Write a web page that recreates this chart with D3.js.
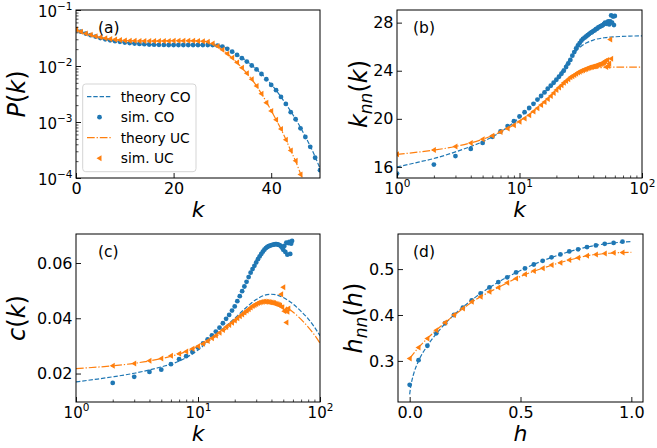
<!DOCTYPE html>
<html>
<head>
<meta charset="utf-8">
<script src="https://cdn.jsdelivr.net/npm/d3@7"></script>
<style>
body { margin: 0; background: #fff; }
svg text { font-family: "DejaVu Sans", sans-serif; }
</style>
</head>
<body>
<svg id="fig" width="657" height="448"></svg>
<script>
// ---- panel (a): degree distribution P(k)
var kA_simCO = [0,1,2,3,4,5,6,7,8,9,10,11,12,13,14,15,16,17,18,19,20,21,22,23,24,25,26,27,28,29,30,31,32,33,34,35,36,37,38,39,40,41,42,43,44,45,46,47,48,49,50];
var pA_simCO = [0.045,0.041,0.038,0.0355,0.0335,0.0315,0.030,0.0288,0.0278,0.0270,0.0263,0.0257,0.0252,0.0248,0.0245,0.0242,0.0240,0.0239,0.0238,0.0237,0.0237,0.0237,0.0237,0.0237,0.0237,0.0237,0.0237,0.0237,0.0236,0.0232,0.0222,0.0203,0.0180,0.0158,0.0138,0.0120,0.0102,0.0087,0.0072,0.0058,0.0046,0.0037,0.0028,0.0021,0.0015,0.00112,0.00077,0.00054,0.00036,0.00023,0.000138];
var kA_simUC = [0,1,2,3,4,5,6,7,8,9,10,11,12,13,14,15,16,17,18,19,20,21,22,23,24,25,26,27,28,29,30,31,32,33,34,35,36,37,38,39,40,41,42,43,44,45,46];
var pA_simUC = [0.045,0.041,0.038,0.036,0.034,0.0325,0.0313,0.0303,0.0296,0.0290,0.0286,0.0283,0.0281,0.0280,0.0279,0.0279,0.0279,0.0279,0.0280,0.0280,0.0281,0.0281,0.0281,0.0281,0.0281,0.0280,0.0278,0.0270,0.0252,0.0225,0.0195,0.0166,0.0140,0.0115,0.0093,0.0074,0.0058,0.0044,0.0032,0.0022,0.00158,0.0011,0.00075,0.00048,0.00031,0.000204,0.000115];
var kA_thCO = [0,2,4,6,8,10,13,16,20,24,27,29,31,33,35,37,39,41,43,45,47,49,50];
var pA_thCO = [0.045,0.038,0.0335,0.030,0.0278,0.0263,0.0248,0.0240,0.0237,0.0237,0.0236,0.0230,0.0205,0.0160,0.0121,0.0087,0.0059,0.0037,0.0021,0.00113,0.00055,0.00024,0.000148];
var kA_thUC = [0,2,4,6,8,10,13,16,20,24,26,27,28,29,30,31,32,33,34,35,36,37,38,39,40,41,42,43,44,45,46,47,48];
var pA_thUC = [0.045,0.038,0.034,0.0313,0.0296,0.0286,0.0280,0.0279,0.0281,0.0281,0.0278,0.0270,0.0253,0.0226,0.0196,0.0166,0.0139,0.0115,0.0093,0.0074,0.0058,0.0044,0.0032,0.0023,0.00160,0.00110,0.00075,0.00049,0.00031,0.000200,0.000120,0.000072,0.000042];

// ---- panel (b): k_nn(k)
var kB_simCO = [1,2,3,4,5,6,7,8,9,10,11,12,13,14,15,16,17,18,19,20,21,22,23,24,25,26,27,28,29,30,31,32,33,34,35,36,37,38,39,40,41,42,43,44,45,46,47,48,49,50,51,52,53,54,55,56,57,58,59,60];
var vB_simCO = [15.45,16.2,16.9,17.5,18.0,18.5,18.95,19.4,19.8,20.2,20.55,20.9,21.25,21.6,21.9,22.2,22.5,22.75,23.0,23.25,23.5,23.75,24.0,24.3,24.6,24.9,25.25,25.55,25.85,26.1,26.3,26.5,26.65,26.75,26.85,26.95,27.05,27.15,27.2,27.3,27.35,27.45,27.5,27.6,27.65,27.7,27.75,27.8,27.9,28.0,27.9,28.0,28.1,27.85,28.1,28.6,28.0,28.5,27.8,28.55];
var kB_simUC = [1,2,3,4,5,6,7,8,9,10,11,12,13,14,15,16,17,18,19,20,21,22,23,24,25,26,27,28,29,30,31,32,33,34,35,36,37,38,39,40,41,42,43,44,45,46,47,48,49,50,51,52,53,54,55,56];
var vB_simUC = [17.05,17.4,17.7,18.0,18.3,18.6,18.9,19.2,19.47,19.75,20.03,20.3,20.6,20.87,21.14,21.4,21.65,21.9,22.15,22.4,22.6,22.8,23.0,23.15,23.3,23.45,23.55,23.65,23.75,23.85,23.92,24.0,24.05,24.1,24.15,24.2,24.25,24.28,24.3,24.35,24.38,24.42,24.45,24.5,24.52,24.55,24.6,24.65,24.7,24.8,24.3,24.9,24.4,24.6,26.6,25.0];
var kB_thCO = [1,1.5,2,3,4,5,7,10,13,17,20,25,30,35,40,50,60,80,100];
var vB_thCO = [16.0,16.4,16.7,17.25,17.7,18.1,18.9,20.1,21.2,22.5,23.3,24.8,25.8,26.3,26.55,26.75,26.82,26.88,26.9];
var kB_thUC = [1,2,3,5,7,10,15,20,25,30,35,40,50,60,80,100];
var vB_thUC = [17.05,17.4,17.7,18.3,18.9,19.8,21.15,22.35,23.2,23.75,24.05,24.2,24.27,24.3,24.3,24.3];

// ---- panel (c): clustering c(k)
var kC_simCO = [2,3,4,5,6,7,8,9,10,11,12,13,14,15,16,17,18,19,20,21,22,23,24,25,26,27,28,29,30,31,32,33,34,35,36,37,38,39,40,41,42,43,44,45,46,47,48,49,50,51,52,53,54,55,56,57,58,59];
var vC_simCO = [0.0166,0.0188,0.0206,0.0214,0.0234,0.0252,0.0263,0.0278,0.0294,0.0309,0.0324,0.0338,0.0352,0.0366,0.0382,0.0398,0.0412,0.0428,0.0443,0.0462,0.048,0.0498,0.0515,0.0532,0.0549,0.0565,0.0578,0.059,0.0602,0.0614,0.0624,0.0633,0.0641,0.0648,0.0654,0.0658,0.0661,0.0663,0.0665,0.0666,0.0667,0.0668,0.0668,0.0667,0.0666,0.0664,0.0660,0.0655,0.0648,0.0662,0.0640,0.0674,0.0630,0.0672,0.0676,0.0633,0.0670,0.0680];
var kC_simUC = [2,3,4,5,6,7,8,9,10,11,12,13,14,15,16,17,18,19,20,21,22,23,24,25,26,27,28,29,30,31,32,33,34,35,36,37,38,39,40,41,42,43,44,45,46,47,48,49,50,51,52,53,54,55];
var vC_simUC = [0.0228,0.0236,0.0246,0.0254,0.0264,0.0272,0.028,0.029,0.0299,0.0308,0.0318,0.0328,0.0338,0.0348,0.0358,0.0368,0.0376,0.0384,0.0392,0.0400,0.0407,0.0414,0.0421,0.0427,0.0433,0.0439,0.0444,0.0448,0.0452,0.0455,0.0457,0.0459,0.046,0.0461,0.046,0.046,0.0459,0.0458,0.0457,0.0456,0.0455,0.0453,0.0452,0.045,0.0448,0.0446,0.0487,0.0440,0.0512,0.0425,0.0430,0.0385,0.0424,0.0435];
var kC_thCO = [1,1.5,2,3,4,5,7,10,13,16,20,25,30,35,40,50,60,70,80,90,100];
var vC_thCO = [0.0170,0.0180,0.0188,0.0201,0.0213,0.0224,0.0245,0.0285,0.0328,0.0362,0.0400,0.0440,0.0468,0.0483,0.0487,0.0475,0.0452,0.0425,0.0398,0.0368,0.0337];
var kC_thUC = [1,2,3,5,7,10,13,16,20,25,30,35,40,50,60,70,80,90,100];
var vC_thUC = [0.0218,0.0228,0.0237,0.0254,0.0271,0.0298,0.0325,0.0352,0.0388,0.0421,0.0445,0.0457,0.0458,0.0445,0.0423,0.0396,0.0368,0.0340,0.0310];

// ---- panel (d): h_nn(h)
var hD_sim = [0,0.04,0.08,0.12,0.16,0.20,0.24,0.28,0.32,0.36,0.40,0.44,0.48,0.52,0.56,0.60,0.64,0.68,0.72,0.76,0.80,0.84,0.88,0.92,0.96];
var vD_simCO = [0.248,0.3015,0.333,0.360,0.382,0.400,0.416,0.432,0.447,0.460,0.4716,0.482,0.4927,0.5015,0.510,0.518,0.5255,0.532,0.5385,0.543,0.548,0.5516,0.555,0.557,0.5596];
var vD_simUC = [0.305,0.329,0.349,0.367,0.3836,0.400,0.414,0.4287,0.44,0.4505,0.46,0.470,0.4796,0.489,0.4956,0.502,0.5087,0.5138,0.5196,0.5247,0.529,0.532,0.534,0.5356,0.536];
var hD_thCO = [0,0.005,0.01,0.02,0.04,0.08,0.12,0.16,0.2,0.3,0.4,0.5,0.6,0.7,0.8,0.9,1.0];
var vD_thCO = [0.227,0.245,0.257,0.275,0.300,0.333,0.359,0.381,0.400,0.440,0.4716,0.497,0.518,0.535,0.548,0.556,0.5598];
var hD_thUC = [0,0.04,0.08,0.12,0.16,0.2,0.3,0.4,0.5,0.6,0.7,0.8,0.9,1.0];
var vD_thUC = [0.305,0.329,0.349,0.367,0.3836,0.399,0.434,0.460,0.484,0.502,0.517,0.529,0.5345,0.5365];

var legendLabels = ["theory CO", "sim. CO", "theory UC", "sim. UC"];

var blue = "#1f77b4", orange = "#ff7f0e";
var dashCO = "4.4,1.9", dashUC = "7.7,1.9,1.3,1.9";
var FONT = "DejaVu Sans, sans-serif";
var svg = d3.select("#fig");

function zip(xs, ys) { return xs.map(function(v, i) { return [v, ys[i]]; }); }

function makePanel(id, left, top, w, h) {
  var g = svg.append("g").attr("transform", "translate(" + left + "," + top + ")");
  g.append("clipPath").attr("id", "clip" + id).append("rect").attr("width", w).attr("height", h);
  g.inner = g.append("g").attr("clip-path", "url(#clip" + id + ")");
  g.w = w; g.h = h;
  return g;
}

// 10^n labels, mathtext style
function supLabel(sel, isY) {
  sel.selectAll(".tick text").each(function(d) {
    var e = Math.round(Math.log10(d));
    var t = d3.select(this).attr("font-size", 15).text("10");
    if (isY) t.attr("dy", "0.42em");
    t.append("tspan").attr("dy", "-6.5").attr("font-size", "10.5px").text(e < 0 ? "\u2212" + (-e) : e);
  });
}

function logMinor(lo, hi) {
  var out = [];
  for (var e = lo; e < hi; e++) for (var m = 2; m <= 9; m++) out.push(m * Math.pow(10, e));
  return out;
}

function drawAxes(g, x, y, o) {
  var xa = g.append("g").attr("transform", "translate(0," + g.h + ")")
    .call(d3.axisBottom(x).tickValues(o.xt).tickSize(-5).tickSizeOuter(0).tickPadding(5).tickFormat(o.xf || null));
  var ya = g.append("g")
    .call(d3.axisLeft(y).tickValues(o.yt).tickSize(-5).tickSizeOuter(0).tickPadding(3.5).tickFormat(o.yf || null));
  [xa, ya].forEach(function(a) {
    a.attr("font-size", 16).attr("font-family", FONT);
    a.select(".domain").remove();
    a.selectAll(".tick line").attr("stroke-width", 0.9);
  });
  if (o.xlog) {
    supLabel(xa, false);
    g.append("g").attr("transform", "translate(0," + g.h + ")")
      .call(d3.axisBottom(x).tickValues(logMinor(0, 2)).tickSize(-2.5).tickFormat(""))
      .call(function(a) { a.select(".domain").remove(); a.selectAll("line").attr("stroke-width", 0.7); });
  }
  if (o.ylog) {
    supLabel(ya, true);
    g.append("g")
      .call(d3.axisLeft(y).tickValues(logMinor(-4, -1)).tickSize(-2.5).tickFormat(""))
      .call(function(a) { a.select(".domain").remove(); a.selectAll("line").attr("stroke-width", 0.7); });
  }
  g.append("rect").attr("width", g.w).attr("height", g.h)
    .attr("fill", "none").attr("stroke", "#000").attr("stroke-width", 1);
}

function drawSeries(g, x, y, thCO, simCO, thUC, simUC) {
  var line = d3.line().x(function(d) { return x(d[0]); }).y(function(d) { return y(d[1]); }).curve(d3.curveMonotoneX);
  g.inner.append("path").datum(thCO).attr("d", line).attr("fill", "none")
    .attr("stroke", blue).attr("stroke-width", 1.2).attr("stroke-dasharray", dashCO);
  g.inner.selectAll(".dco").data(simCO).enter().append("circle")
    .attr("cx", function(d) { return x(d[0]); }).attr("cy", function(d) { return y(d[1]); })
    .attr("r", 2.4).attr("fill", blue);
  g.inner.append("path").datum(thUC).attr("d", line).attr("fill", "none")
    .attr("stroke", orange).attr("stroke-width", 1.2).attr("stroke-dasharray", dashUC);
  g.inner.selectAll(".duc").data(simUC).enter().append("path")
    .attr("transform", function(d) { return "translate(" + x(d[0]) + "," + y(d[1]) + ")"; })
    .attr("d", "M-3,0L2,-3L2,3Z").attr("fill", orange);
}

function yLabel(g, xpos, parts) {
  var t = g.append("text").attr("transform", "translate(" + xpos + "," + (g.h / 2) + ") rotate(-90)")
    .attr("text-anchor", "middle").attr("font-size", 24).attr("font-family", FONT);
  parts.forEach(function(p) {
    var s = t.append("tspan").text(p[0]);
    if (p[1] === "i") s.attr("font-style", "italic");
    if (p[1] === "sub") s.attr("font-style", "italic").attr("font-size", 17).attr("dy", 5);
    if (p[2]) s.attr("dy", p[2]);
  });
}
function xLabel(g, ypos, txt) {
  g.append("text").attr("x", g.w / 2).attr("y", ypos).attr("text-anchor", "middle")
    .attr("font-family", FONT).attr("font-size", 22).attr("font-style", "italic").text(txt);
}
function tag(g, xpos, txt) {
  g.append("text").attr("x", xpos).attr("y", 23).attr("font-family", FONT).attr("font-size", 15.5).text(txt);
}

// ---- (a)
var gA = makePanel("a", 76, 10, 244, 168);
var xA = d3.scaleLinear().domain([0, 50]).range([0, 244]);
var yA = d3.scaleLog().domain([1e-4, 1e-1]).range([168, 0]);
drawSeries(gA, xA, yA, zip(kA_thCO, pA_thCO), zip(kA_simCO, pA_simCO), zip(kA_thUC, pA_thUC), zip(kA_simUC, pA_simUC));
drawAxes(gA, xA, yA, { xt: [0, 20, 40], yt: [1e-4, 1e-3, 1e-2, 1e-1], ylog: true });
yLabel(gA, -51, [["P", "i"], ["("], ["k", "i"], [")"]]);
xLabel(gA, 207, "k");
tag(gA, 22, "(a)");

// legend
var lg = gA.append("g").attr("transform", "translate(6.7,74)");
lg.append("rect").attr("width", 113.3).attr("height", 87.7).attr("rx", 3)
  .attr("fill", "#fff").attr("fill-opacity", 0.8).attr("stroke", "#d0d0d0").attr("stroke-width", 0.9);
legendLabels.forEach(function(lab, i) {
  var yy = 12.7 + i * 20.5;
  if (i === 0 || i === 2) {
    lg.append("line").attr("x1", 4.3).attr("x2", 29.3).attr("y1", yy).attr("y2", yy)
      .attr("stroke", i === 0 ? blue : orange).attr("stroke-width", 1.2)
      .attr("stroke-dasharray", i === 0 ? dashCO : dashUC);
  } else if (i === 1) {
    lg.append("circle").attr("cx", 16.8).attr("cy", yy).attr("r", 2.4).attr("fill", blue);
  } else {
    lg.append("path").attr("transform", "translate(16.8," + yy + ")").attr("d", "M-3,0L2,-3L2,3Z").attr("fill", orange);
  }
  lg.append("text").attr("x", 38).attr("y", yy + 5).attr("font-family", FONT).attr("font-size", 13.8).text(lab);
});

// ---- (b)
var gB = makePanel("b", 397, 10, 245, 168);
var xB = d3.scaleLog().domain([1, 100]).range([0, 245]);
var yB = d3.scaleLinear().domain([15.08, 29.05]).range([168, 0]);
drawSeries(gB, xB, yB, zip(kB_thCO, vB_thCO), zip(kB_simCO, vB_simCO), zip(kB_thUC, vB_thUC), zip(kB_simUC, vB_simUC));
drawAxes(gB, xB, yB, { xt: [1, 10, 100], yt: [16, 20, 24, 28], xlog: true, yf: d3.format("d") });
yLabel(gB, -30, [["k", "i"], ["nn", "sub"], ["(", null, -5], ["k", "i"], [")"]]);
xLabel(gB, 207, "k");
tag(gB, 16, "(b)");

// ---- (c)
var gC = makePanel("c", 76, 234, 244, 168);
var xC = d3.scaleLog().domain([1, 100]).range([0, 244]);
var yC = d3.scaleLinear().domain([0.0097, 0.0705]).range([168, 0]);
drawSeries(gC, xC, yC, zip(kC_thCO, vC_thCO), zip(kC_simCO, vC_simCO), zip(kC_thUC, vC_thUC), zip(kC_simUC, vC_simUC));
drawAxes(gC, xC, yC, { xt: [1, 10, 100], yt: [0.02, 0.04, 0.06], xlog: true, yf: d3.format(".2f") });
yLabel(gC, -51, [["c", "i"], ["("], ["k", "i"], [")"]]);
xLabel(gC, 207, "k");
tag(gC, 22, "(c)");

// ---- (d)
var gD = makePanel("d", 398, 234, 245, 168);
var xD = d3.scaleLinear().domain([-0.0526, 1.0526]).range([0, 245]);
var yD = d3.scaleLinear().domain([0.2105, 0.5764]).range([168, 0]);
drawSeries(gD, xD, yD, zip(hD_thCO, vD_thCO), zip(hD_sim, vD_simCO), zip(hD_thUC, vD_thUC), zip(hD_sim, vD_simUC));
drawAxes(gD, xD, yD, { xt: [0, 0.5, 1], yt: [0.3, 0.4, 0.5], xf: d3.format(".1f"), yf: d3.format(".1f") });
yLabel(gD, -36, [["h", "i"], ["nn", "sub"], ["(", null, -5], ["h", "i"], [")"]]);
xLabel(gD, 207, "h");
tag(gD, 15, "(d)");
</script>
</body>
</html>
